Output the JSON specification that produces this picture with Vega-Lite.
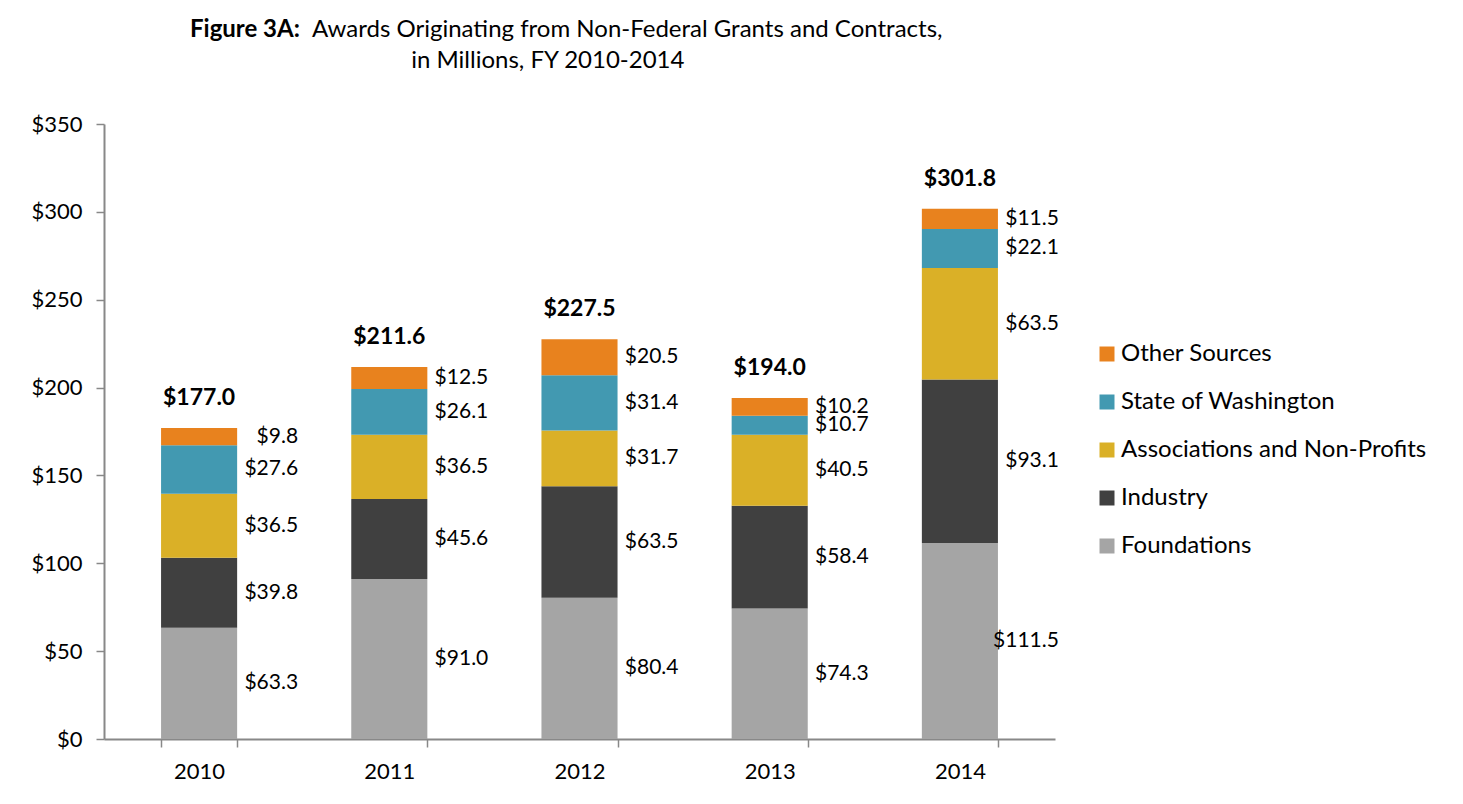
{
  "$schema": "https://vega.github.io/schema/vega-lite/v6.json",
  "width": 951,
  "height": 615,
  "autosize": {"type": "none"},
  "padding": {"left": 104, "top": 124, "right": 408, "bottom": 65},
  "background": "white",
  "config": {
    "font": "Lato",
    "view": {"stroke": null}
  },
  "title": {
    "text": "Figure 3A:",
    "subtitle": ["\u200b\u00a0\u00a0\u00a0\u00a0\u00a0\u00a0\u00a0\u00a0\u00a0\u00a0\u00a0\u00a0\u00a0\u00a0\u00a0\u00a0\u00a0\u00a0\u00a0\u00a0Awards Originating from Non-Federal Grants and Contracts,", "\u200b\u00a0\u00a0\u00a0\u00a0\u00a0\u00a0\u00a0\u00a0\u00a0\u00a0\u00a0\u00a0\u00a0\u00a0\u00a0\u00a0\u00a0\u00a0\u00a0\u00a0\u00a0\u00a0\u00a0\u00a0\u00a0\u00a0\u00a0\u00a0\u00a0\u00a0\u00a0\u00a0\u00a0\u00a0\u00a0\u00a0in Millions, FY 2010-2014"],
    "anchor": "start",
    "frame": "group",
    "dx": 86,
    "fontSize": 24,
    "fontWeight": "bold",
    "subtitleFontSize": 24,
    "subtitleColor": "black",
    "subtitleFont": "Lato",
    "subtitlePadding": -24,
    "subtitleLineHeight": 31,
    "color": "black",
    "offset": 40
  },
  "datasets": {
    "ranks": [
      {"source": "Foundations", "rank": 1},
      {"source": "Industry", "rank": 2},
      {"source": "Associations and Non-Profits", "rank": 3},
      {"source": "State of Washington", "rank": 4},
      {"source": "Other Sources", "rank": 5}
    ],
    "segments": [
      {"year": "2010", "source": "Foundations", "value": 63.3},
      {"year": "2010", "source": "Industry", "value": 39.8},
      {"year": "2010", "source": "Associations and Non-Profits", "value": 36.5},
      {"year": "2010", "source": "State of Washington", "value": 27.6},
      {"year": "2010", "source": "Other Sources", "value": 9.8},
      {"year": "2011", "source": "Foundations", "value": 91.0},
      {"year": "2011", "source": "Industry", "value": 45.6},
      {"year": "2011", "source": "Associations and Non-Profits", "value": 36.5},
      {"year": "2011", "source": "State of Washington", "value": 26.1},
      {"year": "2011", "source": "Other Sources", "value": 12.5},
      {"year": "2012", "source": "Foundations", "value": 80.4},
      {"year": "2012", "source": "Industry", "value": 63.5},
      {"year": "2012", "source": "Associations and Non-Profits", "value": 31.7},
      {"year": "2012", "source": "State of Washington", "value": 31.4},
      {"year": "2012", "source": "Other Sources", "value": 20.5},
      {"year": "2013", "source": "Foundations", "value": 74.3},
      {"year": "2013", "source": "Industry", "value": 58.4},
      {"year": "2013", "source": "Associations and Non-Profits", "value": 40.5},
      {"year": "2013", "source": "State of Washington", "value": 10.7},
      {"year": "2013", "source": "Other Sources", "value": 10.2},
      {"year": "2014", "source": "Foundations", "value": 111.5},
      {"year": "2014", "source": "Industry", "value": 93.1},
      {"year": "2014", "source": "Associations and Non-Profits", "value": 63.5},
      {"year": "2014", "source": "State of Washington", "value": 22.1},
      {"year": "2014", "source": "Other Sources", "value": 11.5}
    ],
    "totals": [
      {"year": "2010", "total": 177.0},
      {"year": "2011", "total": 211.6},
      {"year": "2012", "total": 227.5},
      {"year": "2013", "total": 194.0},
      {"year": "2014", "total": 301.8}
    ]
  },
  "encoding": {
    "x": {
      "field": "year",
      "type": "ordinal",
      "title": null,
      "scale": {"paddingInner": 0.6, "paddingOuter": 0.3},
      "axis": {
        "labelAngle": 0,
        "labelFontSize": 22,
        "labelColor": "black",
        "labelPadding": 14,
        "domainColor": "#888888",
        "domainWidth": 2,
        "tickColor": "#888888",
        "tickWidth": 1.5,
        "tickSize": 8,
        "tickBand": "extent",
        "grid": false
      }
    }
  },
  "layer": [
    {
      "data": {"name": "segments"},
      "transform": [
        {"lookup": "source", "from": {"data": {"name": "ranks"}, "key": "source", "fields": ["rank"]}}
      ],
      "mark": {"type": "bar"},
      "encoding": {
        "y": {
          "field": "value",
          "type": "quantitative",
          "stack": "zero",
          "title": null,
          "scale": {"domain": [0, 350]},
          "axis": {
            "values": [0, 50, 100, 150, 200, 250, 300, 350],
            "labelExpr": "'$' + datum.value",
            "labelFontSize": 22,
            "labelColor": "black",
            "labelPadding": 14,
            "domainColor": "#888888",
            "domainWidth": 2,
            "tickColor": "#888888",
            "tickWidth": 1.5,
            "tickSize": 8,
            "grid": false
          }
        },
        "order": {"field": "rank", "type": "quantitative", "sort": "ascending"},
        "color": {
          "field": "source",
          "type": "nominal",
          "scale": {
            "domain": ["Foundations", "Industry", "Associations and Non-Profits", "State of Washington", "Other Sources"],
            "range": ["#A5A5A5", "#404040", "#DAB027", "#4299B1", "#E8821E"]
          },
          "legend": {
            "title": null,
            "values": ["Other Sources", "State of Washington", "Associations and Non-Profits", "Industry", "Foundations"],
            "orient": "none",
            "legendX": 991,
            "legendY": 218,
            "symbolType": "square",
            "symbolSize": 225,
            "symbolStrokeWidth": 0,
            "labelFontSize": 24,
            "labelColor": "black",
            "labelOffset": 2,
            "labelLimit": 500,
            "rowPadding": 24
          }
        }
      }
    },
    {
      "data": {"name": "segments"},
      "transform": [
        {"lookup": "source", "from": {"data": {"name": "ranks"}, "key": "source", "fields": ["rank"]}}
      ],
      "mark": {"type": "text", "align": "right", "baseline": "middle", "dx": 99, "fontSize": 21},
      "encoding": {
        "y": {"field": "value", "type": "quantitative", "stack": "zero", "bandPosition": 0.5},
        "order": {"field": "rank", "type": "quantitative", "sort": "ascending"},
        "detail": {"field": "source", "type": "nominal"},
        "color": {"value": "black"},
        "text": {"field": "value", "type": "quantitative", "format": "$.1f"}
      }
    },
    {
      "data": {"name": "totals"},
      "mark": {"type": "text", "baseline": "bottom", "dy": -18, "fontSize": 23, "fontWeight": "bold", "color": "black"},
      "encoding": {
        "y": {"field": "total", "type": "quantitative"},
        "text": {"field": "total", "type": "quantitative", "format": "$.1f"}
      }
    }
  ]
}
